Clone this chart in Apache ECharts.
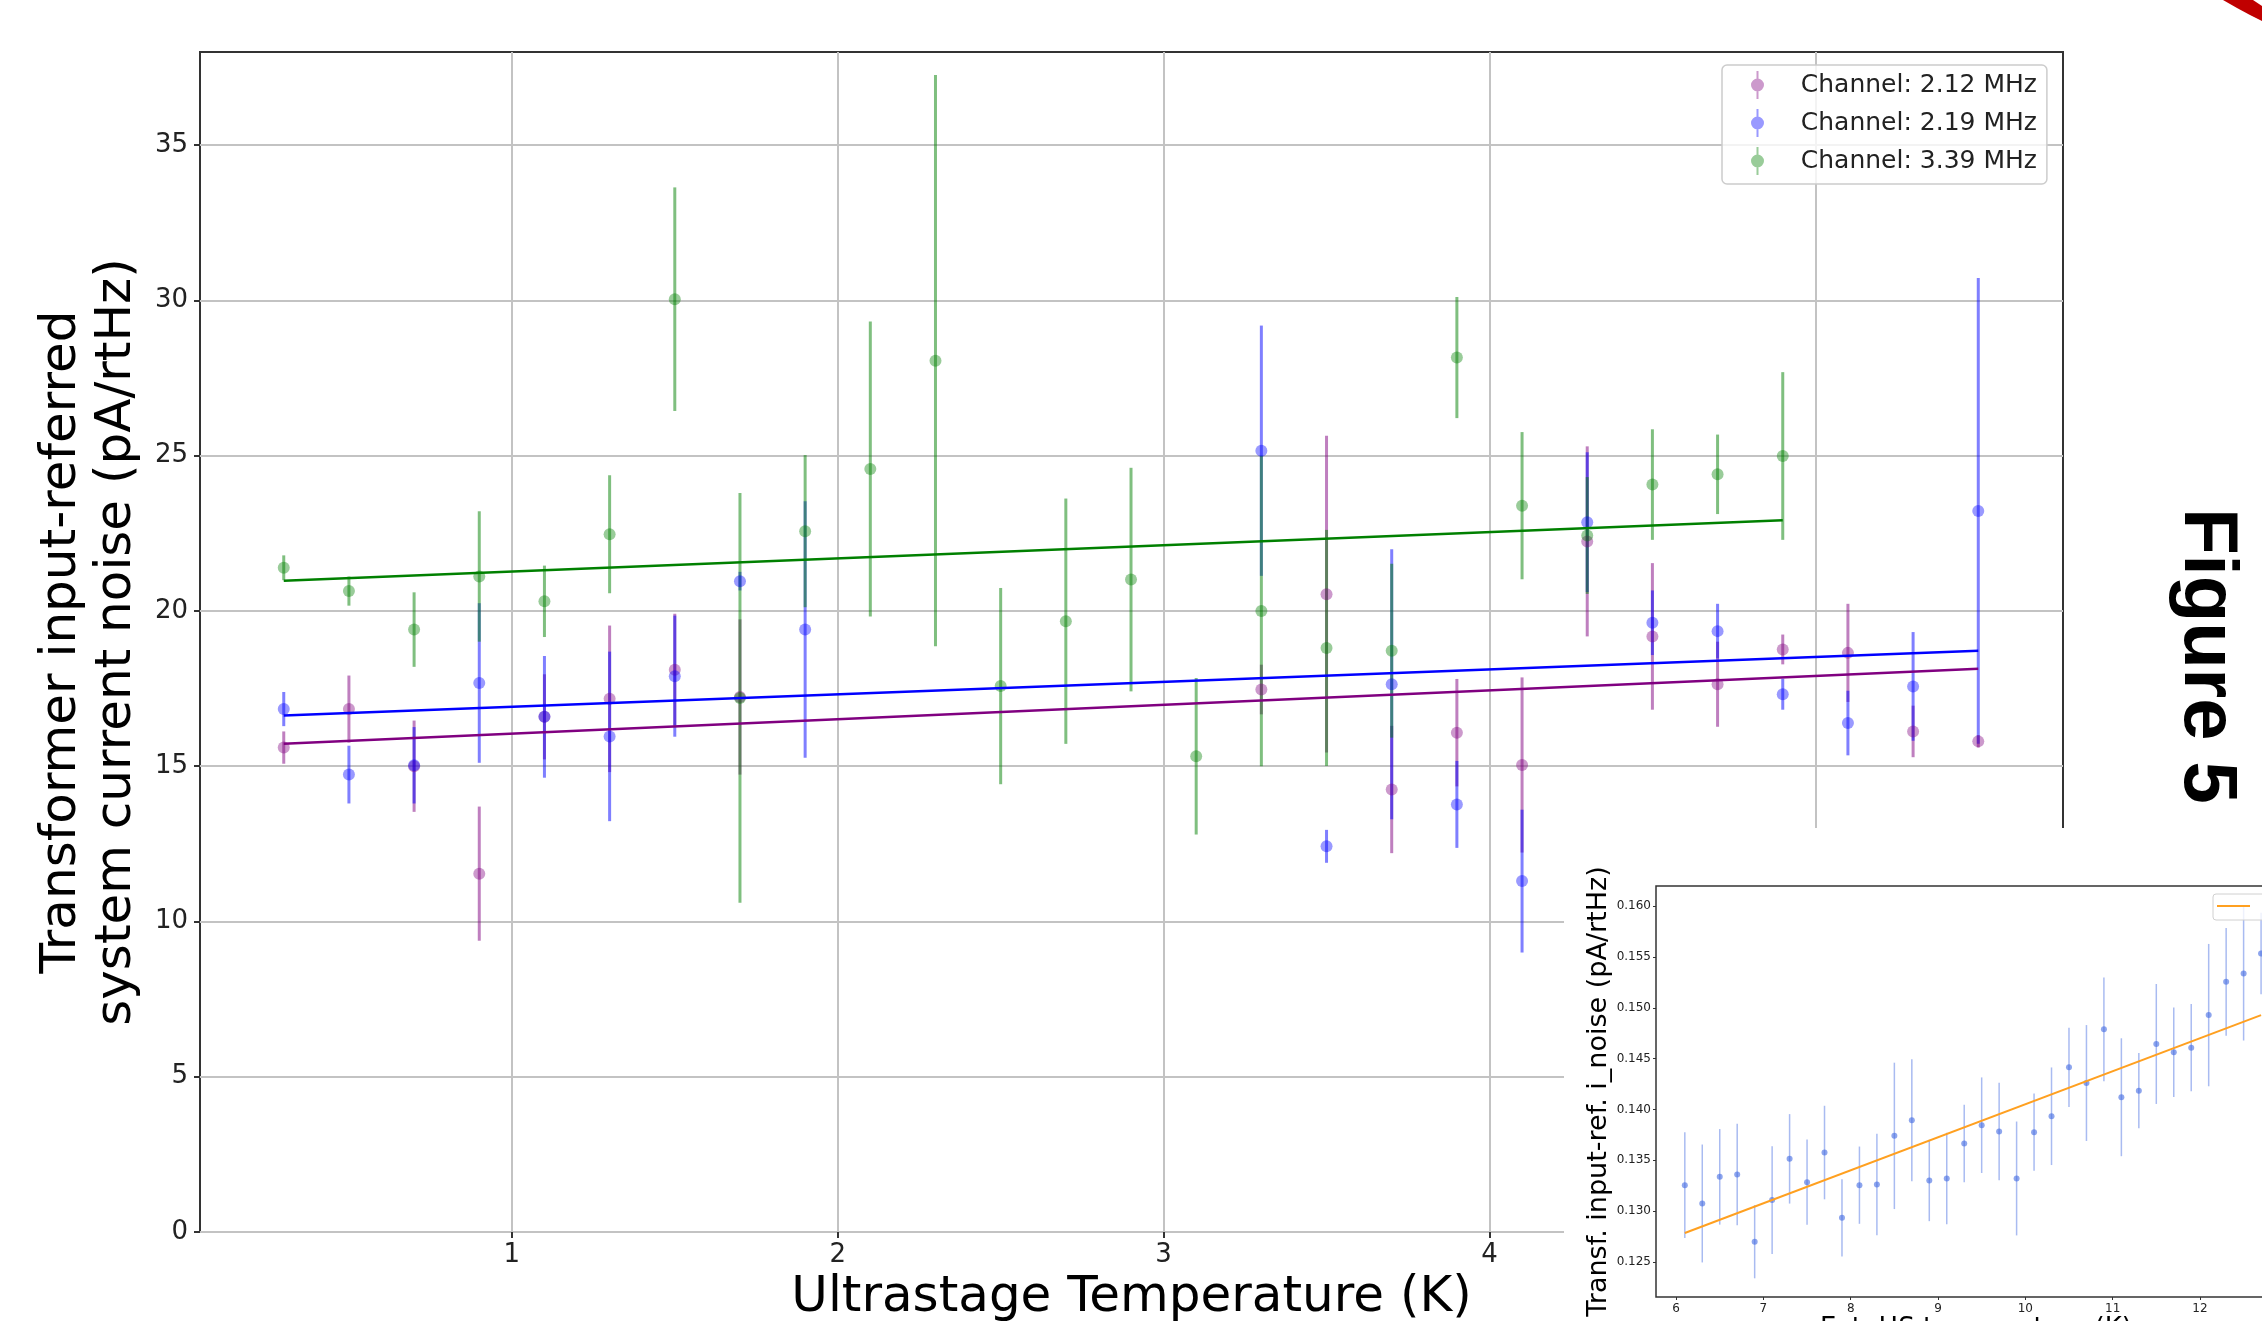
<!DOCTYPE html>
<html lang="en">
<head>
<meta charset="UTF-8">
<title>Transformer input-referred noise</title>
<script src="https://cdn.jsdelivr.net/npm/echarts@6/dist/echarts.min.js"></script>
<style>
  html, body { margin: 0; padding: 0; background: #fff; }
  #chart { width: 2262px; height: 1321px; }
</style>
</head>
<body>
<div id="chart"></div>
<script>
// main plot: noise per channel vs ultrastage temperature, value +- error
var ch212X   = [0.3, 0.5, 0.7, 0.9, 1.1, 1.3, 1.5, 1.7, 3.3, 3.5, 3.7, 3.9, 4.1, 4.3, 4.5, 4.7, 4.9, 5.1, 5.3, 5.5];
var ch212Y   = [15.60, 16.84, 15.00, 11.54, 16.59, 17.17, 18.11, 17.23, 17.47, 20.54, 14.25, 16.08, 15.04, 22.24, 19.18, 17.64, 18.76, 18.65, 16.12, 15.80];
var ch212Err = [0.52, 1.08, 1.47, 2.16, 1.37, 2.36, 1.80, 2.50, 0.80, 5.10, 2.05, 1.73, 2.82, 3.06, 2.36, 1.37, 0.48, 1.58, 0.83, 0.20];

var ch219X   = [0.3, 0.5, 0.7, 0.9, 1.1, 1.3, 1.5, 1.7, 1.9, 3.3, 3.5, 3.7, 3.9, 4.1, 4.3, 4.5, 4.7, 4.9, 5.1, 5.3, 5.5];
var ch219Y   = [16.84, 14.73, 15.03, 17.68, 16.59, 15.96, 17.90, 20.96, 19.40, 25.16, 12.42, 17.64, 13.77, 11.30, 22.86, 19.62, 19.35, 17.32, 16.39, 17.57, 23.22];
var ch219Err = [0.55, 0.93, 1.23, 2.57, 1.96, 2.73, 1.95, 0.30, 4.13, 4.03, 0.53, 4.35, 1.40, 2.30, 2.25, 1.04, 0.88, 0.50, 1.04, 1.75, 7.50];

var ch339X   = [0.3, 0.5, 0.7, 0.9, 1.1, 1.3, 1.5, 1.7, 1.9, 2.1, 2.3, 2.5, 2.7, 2.9, 3.1, 3.3, 3.5, 3.7, 3.9, 4.1, 4.3, 4.5, 4.7, 4.9];
var ch339Y   = [21.39, 20.64, 19.40, 21.11, 20.31, 22.47, 30.04, 17.20, 22.57, 24.57, 28.06, 17.58, 19.67, 21.01, 15.32, 20.00, 18.81, 18.72, 28.16, 23.39, 22.43, 24.07, 24.40, 24.99];
var ch339Err = [0.40, 0.47, 1.20, 2.10, 1.15, 1.90, 3.60, 6.60, 2.45, 4.75, 9.20, 3.16, 3.95, 3.60, 2.52, 5.00, 3.80, 2.80, 1.95, 2.37, 1.88, 1.78, 1.28, 2.70];

// linear fits (end points)
var fit212X = [0.3, 5.5], fit212Y = [15.72, 18.14];
var fit219X = [0.3, 5.5], fit219Y = [16.63, 18.72];
var fit339X = [0.3, 4.9], fit339Y = [20.97, 22.92];

var mainXTicks = [1, 2, 3, 4, 5];
var mainYTicks = [0, 5, 10, 15, 20, 25, 30, 35];

// inset: transformer noise vs HS temperature
var insetX   = [6.1, 6.3, 6.5, 6.7, 6.9, 7.1, 7.3, 7.5, 7.7, 7.9, 8.1, 8.3, 8.5, 8.7, 8.9, 9.1, 9.3, 9.5, 9.7, 9.9,
                10.1, 10.3, 10.5, 10.7, 10.9, 11.1, 11.3, 11.5, 11.7, 11.9, 12.1, 12.3, 12.5, 12.7];
var insetY   = [0.13256, 0.13076, 0.13338, 0.13361, 0.12700, 0.13109, 0.13515, 0.13286, 0.13577, 0.12935,
                0.13256, 0.13263, 0.13741, 0.13895, 0.13302, 0.13322, 0.13666, 0.13846, 0.13784, 0.13322,
                0.13777, 0.13934, 0.14415, 0.14261, 0.14789, 0.14121, 0.14186, 0.14645, 0.14563, 0.14609,
                0.14929, 0.15257, 0.15339, 0.15535];
var insetErr = [0.0052, 0.0058, 0.0047, 0.0050, 0.0036, 0.0053, 0.0044, 0.0042, 0.0046, 0.0038,
                0.0038, 0.0050, 0.0072, 0.0060, 0.0040, 0.0045, 0.0038, 0.0047, 0.0048, 0.0056,
                0.0038, 0.0048, 0.0039, 0.0057, 0.0051, 0.0058, 0.0037, 0.0059, 0.0044, 0.0043,
                0.0070, 0.0053, 0.0066, 0.0040];
var insetFitX = [6.1, 12.7], insetFitY = [0.12785, 0.14929];

var insetXTicks = [6, 7, 8, 9, 10, 11, 12, 13];
var insetYTicks = [0.125, 0.130, 0.135, 0.140, 0.145, 0.150, 0.155, 0.160];

var FONT = 'DejaVu Sans';
var PURPLE = 'rgba(128,0,128,0.5)', BLUE = 'rgba(0,0,255,0.5)', GREEN = 'rgba(0,128,0,0.5)';
// errorbar legend marker: vertical bar with a dot
var ERRBAR_ICON = 'path://M5.5,0L7.5,0L7.5,28L5.5,28Z M0,14A6.5,6.5,0,1,1,13,14A6.5,6.5,0,1,1,0,14Z';

function zip(a, b, c) {
  return a.map(function (v, i) { return c ? [v, b[i], c[i]] : [v, b[i]]; });
}

function errorBars(xs, ys, es, color, width, idx, z) {
  return {
    type: 'custom', xAxisIndex: idx, yAxisIndex: idx, z: z, silent: true,
    data: zip(xs, ys, es),
    encode: { x: 0, y: 1 },
    renderItem: function (params, api) {
      var x = api.value(0), y = api.value(1), e = api.value(2);
      var p1 = api.coord([x, y + e]);
      var p2 = api.coord([x, y - e]);
      return {
        type: 'line',
        shape: { x1: p1[0], y1: p1[1], x2: p2[0], y2: p2[1] },
        style: { stroke: color, lineWidth: width }
      };
    }
  };
}

function points(name, xs, ys, color, size, idx, z) {
  return {
    type: 'scatter', name: name, xAxisIndex: idx, yAxisIndex: idx, z: z,
    data: zip(xs, ys), symbolSize: size, itemStyle: { color: color }
  };
}

function fitLine(xs, ys, color, width, idx, z) {
  return {
    type: 'line', xAxisIndex: idx, yAxisIndex: idx, z: z, silent: true,
    data: zip(xs, ys), showSymbol: false, lineStyle: { color: color, width: width }
  };
}

var chart = echarts.init(document.getElementById('chart'));

var option = {
  animation: false,
  backgroundColor: '#fff',
  grid: [
    { left: 200, right: 199, top: 52, bottom: 89, outerBoundsMode: 'none',
      show: true, borderColor: '#333', borderWidth: 2 },
    { left: 1656, top: 886, width: 640, height: 411, outerBoundsMode: 'none',
      show: true, borderColor: '#333', borderWidth: 1.5, z: 20 }
  ],
  legend: {
    data: ['Channel: 2.12 MHz', 'Channel: 2.19 MHz', 'Channel: 3.39 MHz'],
    orient: 'vertical', left: 1722, top: 65, padding: [6, 10, 9, 29],
    itemWidth: 13, itemHeight: 28, itemGap: 10, icon: ERRBAR_ICON,
    formatter: function (n) { return '    ' + n; },
    textStyle: { fontFamily: FONT, fontSize: 25, color: '#222' },
    backgroundColor: 'rgba(255,255,255,0.8)', borderColor: '#cccccc', borderWidth: 1.5, borderRadius: 5
  },
  xAxis: [
    {
      type: 'value', gridIndex: 0, min: 0.043, max: 5.76,
      name: 'Ultrastage Temperature (K)', nameLocation: 'middle', nameGap: 36,
      nameTextStyle: { fontFamily: FONT, fontSize: 50, color: '#000' },
      axisLine: { show: false },
      axisTick: { show: true, length: 6, customValues: mainXTicks, lineStyle: { color: '#333', width: 2 } },
      axisLabel: { fontFamily: FONT, fontSize: 26, color: '#222', margin: 10, customValues: mainXTicks },
      splitLine: { show: true, lineStyle: { color: '#c3c3c3', width: 2 } }
    },
    {
      type: 'value', gridIndex: 1, min: 5.77, max: 13.1, z: 20,
      name: 'Ext. HS temperature (K)', nameLocation: 'middle', nameGap: 15,
      nameTextStyle: { fontFamily: FONT, fontSize: 26, color: '#000' },
      axisLine: { show: false },
      axisTick: { show: true, length: 3, customValues: insetXTicks, lineStyle: { color: '#333' } },
      axisLabel: { fontFamily: FONT, fontSize: 12, color: '#222', margin: 6, customValues: insetXTicks },
      splitLine: { show: false }
    }
  ],
  yAxis: [
    {
      type: 'value', gridIndex: 0, min: 0, max: 38, interval: 5,
      name: 'Transformer input-referred\nsystem current noise (pA/rtHz)',
      nameLocation: 'middle', nameRotate: 90, nameGap: 26,
      nameTextStyle: { fontFamily: FONT, fontSize: 50, lineHeight: 55, color: '#000' },
      axisLine: { show: false },
      axisTick: { show: true, length: 6, customValues: mainYTicks, lineStyle: { color: '#333', width: 2 } },
      axisLabel: { fontFamily: FONT, fontSize: 26, color: '#222', margin: 12, customValues: mainYTicks },
      splitLine: { show: true, lineStyle: { color: '#c3c3c3', width: 2 } }
    },
    {
      type: 'value', gridIndex: 1, min: 0.12156, max: 0.16199, z: 20,
      name: 'Transf. input-ref. i_noise (pA/rtHz)',
      nameLocation: 'middle', nameRotate: 90, nameGap: 42,
      nameTextStyle: { fontFamily: FONT, fontSize: 27, color: '#000' },
      axisLine: { show: false },
      axisTick: { show: true, length: 3, customValues: insetYTicks, lineStyle: { color: '#333' } },
      axisLabel: {
        fontFamily: FONT, fontSize: 12, color: '#222', margin: 5, customValues: insetYTicks,
        formatter: function (v) { return v.toFixed(3); }
      },
      splitLine: { show: false }
    }
  ],
  graphic: [
    // pasted inset panel covers the lower right of the main plot
    { type: 'rect', z: 10, silent: true, shape: { x: 1564, y: 828, width: 698, height: 493 }, style: { fill: '#fff' } },
    { type: 'rect', z: 40, silent: true, shape: { x: 2213, y: 894, width: 110, height: 26, r: 3 },
      style: { fill: 'rgba(255,255,255,0.8)', stroke: '#d0d0d0', lineWidth: 1 } },
    { type: 'line', z: 41, silent: true, shape: { x1: 2217, y1: 906, x2: 2250, y2: 906 },
      style: { stroke: '#ffa020', lineWidth: 2 } },
    { type: 'polygon', z: 10, silent: true,
      shape: { points: [[2223, 0], [2253, 0], [2262, 6], [2262, 21], [2250, 15], [2237, 8]] },
      style: { fill: '#c00000' } },
    { type: 'text', z: 10, x: 2206, y: 656, rotation: -Math.PI / 2,
      style: { text: 'Figure 5', font: 'bold 76px "Liberation Sans", Arial, sans-serif', fill: '#000',
               align: 'center', verticalAlign: 'middle' } }
  ],
  series: [
    errorBars(ch212X, ch212Y, ch212Err, PURPLE, 3, 0, 2),
    points('Channel: 2.12 MHz', ch212X, ch212Y, PURPLE, 12, 0, 2),
    errorBars(ch219X, ch219Y, ch219Err, BLUE, 3, 0, 2),
    points('Channel: 2.19 MHz', ch219X, ch219Y, BLUE, 12, 0, 2),
    errorBars(ch339X, ch339Y, ch339Err, GREEN, 3, 0, 2),
    points('Channel: 3.39 MHz', ch339X, ch339Y, GREEN, 12, 0, 2),
    fitLine(fit212X, fit212Y, '#800080', 2.5, 0, 3),
    fitLine(fit219X, fit219Y, '#0000ff', 2.5, 0, 3),
    fitLine(fit339X, fit339Y, '#008000', 2.5, 0, 3),

    errorBars(insetX, insetY, insetErr, 'rgba(65,105,225,0.45)', 1.5, 1, 25),
    points('inset', insetX, insetY, 'rgba(65,105,225,0.75)', 6, 1, 26),
    fitLine(insetFitX, insetFitY, '#ffa020', 2, 1, 27)
  ]
};

chart.setOption(option);
</script>
</body>
</html>
